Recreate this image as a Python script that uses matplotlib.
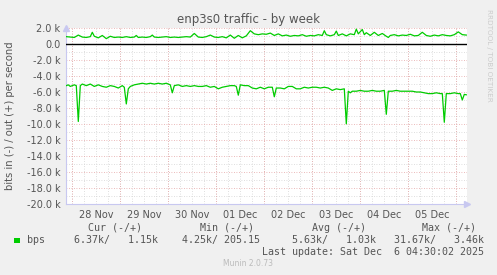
import matplotlib
matplotlib.use("Agg")
import matplotlib.pyplot as plt
import numpy as np
from matplotlib.ticker import FixedLocator, FuncFormatter

# ---- data (hours since 28 Nov 00:00, values in bits/s) ----
day_labels = ["28 Nov", "29 Nov", "30 Nov", "01 Dec", "02 Dec", "03 Dec", "04 Dec", "05 Dec"]

in_t = [-3, -2, -1, 0, 1, 2, 3, 4, 5, 7, 9, 11, 13, 15, 17, 19, 21, 23, 25, 26, 27, 28, 29,
        31, 33, 35, 37, 39, 41, 43, 45, 47, 49, 50, 51, 53, 55, 57, 59, 61, 63, 65, 67, 69,
        71, 73, 75, 77, 79, 81, 82, 83, 84, 86, 88, 90, 92, 94, 96, 98, 100, 101, 102, 104,
        106, 108, 110, 112, 114, 116, 118, 120, 122, 124, 126, 128, 130, 132, 134, 136, 137,
        138, 139, 140, 142, 144, 146, 148, 150, 152, 154, 156, 157, 158, 160, 162, 164, 166,
        168, 170, 172, 174, 176, 178, 180, 182, 184, 185, 186, 187, 189, 191, 193, 194, 195,
        196, 197]
in_v = [-5.2, -5.1, -5.3, -5.2, -5.1, -5.2, -9.7, -5.2, -5.0, -5.2, -5.0, -5.3, -5.1, -5.3,
        -5.4, -5.2, -5.3, -5.5, -5.2, -5.4, -7.5, -5.6, -5.3, -5.1, -5.0, -4.9, -5.0, -4.9,
        -5.0, -4.9, -5.0, -4.9, -5.1, -6.1, -5.2, -5.1, -5.3, -5.2, -5.3, -5.2, -5.3, -5.3,
        -5.2, -5.4, -5.3, -5.6, -5.4, -5.3, -5.2, -5.2, -5.3, -6.4, -5.1, -5.2, -5.2, -5.5,
        -5.6, -5.4, -5.6, -5.4, -5.4, -6.6, -5.5, -5.5, -5.6, -5.3, -5.3, -5.6, -5.6, -5.4,
        -5.5, -5.4, -5.4, -5.5, -5.4, -5.5, -5.8, -5.6, -5.7, -5.6, -10.0, -5.9, -6.1, -5.9,
        -5.9, -5.8, -5.9, -5.9, -5.8, -5.9, -5.9, -5.8, -8.8, -5.9, -5.9, -5.8, -5.9, -5.9,
        -5.9, -5.9, -6.0, -6.0, -6.1, -6.2, -6.2, -6.1, -6.2, -6.2, -9.8, -6.2, -6.2, -6.1,
        -6.2, -6.2, -7.0, -6.3, -6.35]

out_t = [-3, -1, 1, 3, 5, 7, 9, 10, 11, 13, 15, 17, 19, 21, 23, 25, 27, 29, 31, 32, 33, 35,
         37, 39, 40, 41, 43, 45, 47, 49, 51, 53, 55, 57, 59, 61, 63, 65, 67, 69, 71, 73, 75,
         77, 79, 81, 83, 85, 87, 89, 91, 93, 95, 97, 99, 101, 103, 105, 107, 109, 111, 113,
         115, 117, 119, 121, 123, 125, 126, 127, 129, 131, 132, 133, 135, 137, 139, 141, 142,
         143, 145, 146, 147, 149, 151, 153, 155, 157, 158, 159, 161, 163, 165, 167, 169, 171,
         173, 175, 177, 179, 181, 183, 185, 187, 189, 191, 193, 195, 197]
out_v = [0.95, 0.9, 0.85, 1.15, 0.9, 0.85, 0.95, 1.5, 1.0, 0.8, 1.1, 0.7, 1.0, 0.85, 0.9,
         0.85, 0.95, 0.85, 0.9, 1.1, 0.85, 0.9, 0.85, 0.95, 1.15, 0.9, 0.85, 0.9, 0.95, 0.85,
         0.9, 0.85, 0.9, 0.95, 0.9, 1.35, 0.9, 0.85, 0.95, 1.15, 0.9, 0.85, 0.95, 0.8, 1.15,
         0.75, 1.1, 0.8, 1.05, 1.7, 1.3, 1.2, 1.3, 1.25, 1.4, 1.1, 1.3, 1.05, 1.15, 1.0, 1.1,
         1.05, 1.2, 1.0, 1.1, 1.05, 1.2, 1.1, 1.7, 1.2, 1.05, 1.2, 1.65, 1.1, 1.3, 1.05, 1.3,
         1.2, 1.9, 1.3, 1.85, 1.2, 1.45, 1.1, 1.5, 1.1, 1.35, 1.0, 0.85, 1.1, 1.2, 1.05, 1.15,
         1.1, 1.25, 1.05, 1.1, 1.5, 1.1, 1.0, 1.15, 1.05, 1.2, 1.1, 1.05, 1.2, 1.55, 1.2, 1.15]

legend_name = "bps"
legend_headers = ["Cur (-/+)", "Min (-/+)", "Avg (-/+)", "Max (-/+)"]
legend_values = ["6.37k/   1.15k", "4.25k/ 205.15", "5.63k/   1.03k", "31.67k/   3.46k"]
last_update = "Last update: Sat Dec  6 04:30:02 2025"

# ---- figure ----
W, H = 497, 275
fig = plt.figure(figsize=(W / 100, H / 100), dpi=100, facecolor="#F0F0F0")
ax = fig.add_axes([66 / W, 1 - 203.5 / H, 401 / W, (203.5 - 28.3) / H])
ax.set_facecolor("white")

xmin, xmax = -3.15, 197.35
ax.set_xlim(xmin, xmax)
ax.set_ylim(-20000, 2000)

# grids
minor_x = np.arange(0, 198, 6)
major_x = np.arange(0, 198, 24)
for xv in minor_x:
    ax.axvline(xv, color="#d4d4d4", lw=0.6, ls=(0, (1, 2)), zorder=1)
for xv in major_x:
    ax.axvline(xv, color="#e5a3a3", lw=0.6, ls=(0, (1, 2)), zorder=1.5)
for yv in np.arange(-19000, 2000, 2000):
    ax.axhline(yv, color="#d4d4d4", lw=0.6, ls=(0, (1, 2)), zorder=1)
for yv in np.arange(-20000, 2001, 2000):
    ax.axhline(yv, color="#e5a3a3", lw=0.6, ls=(0, (1, 2)), zorder=1.5)

ax.axhline(0, color="black", lw=1.0, zorder=3)

ax.plot(in_t, np.array(in_v) * 1000, color="#00CC00", lw=0.9, zorder=4)
ax.plot(out_t, np.array(out_v) * 1000, color="#00CC00", lw=0.9, zorder=4)

# ticks
ax.set_xticks(np.arange(12, 12 + 24 * len(day_labels), 24))
ax.set_xticklabels(day_labels)
ax.set_yticks(np.arange(-20000, 2001, 2000))
def yfmt(v, p):
    if abs(v) < 1e-9:
        return "0.0"
    return f"{v/1000:.1f} k"
ax.yaxis.set_major_formatter(FuncFormatter(yfmt))
ax.tick_params(axis="both", length=0, labelsize=7, colors="#555555", pad=4)
ax.tick_params(axis="x", pad=5)

for s in ["top", "right"]:
    ax.spines[s].set_visible(False)
for s in ["left", "bottom"]:
    ax.spines[s].set_color("#c8c8f0")
    ax.spines[s].set_linewidth(0.8)
# axis arrows
ax.plot([0], [1.0], marker="^", color="#c8c8f0", ms=4, transform=ax.transAxes, clip_on=False)
ax.plot([1.0], [0], marker=">", color="#c8c8f0", ms=4, transform=ax.transAxes, clip_on=False)

# texts
fig.text(248.5 / W, 1 - 19 / H, "enp3s0 traffic - by week", ha="center", va="center",
         fontsize=8.5, color="#555555")
fig.text(10 / W, 1 - 116 / H, "bits in (-) / out (+) per second", ha="center", va="center",
         rotation=90, fontsize=7.2, color="#555555")
fig.text(489 / W, 1 - 55 / H, "RRDTOOL / TOBI OETIKER", ha="center", va="center",
         rotation=270, fontsize=5.2, color="#cccccc")

mono = "DejaVu Sans Mono"
fig.patches.append(plt.Rectangle((14 / W, 1 - 243 / H), 5.5 / W, 5.5 / H, transform=fig.transFigure,
                                 facecolor="#00CC00", edgecolor="none"))
fig.text(27 / W, 1 - 240 / H, legend_name, ha="left", va="center", fontsize=7.2,
         family=mono, color="#555555")
hdr_x = [115.5, 227.5, 338.5, 449.5]
val_right = [157.5, 260.5, 375.5, 483.5]
for hx, h in zip(hdr_x, legend_headers):
    fig.text(hx / W, 1 - 228 / H, h, ha="center", va="center", fontsize=7.2,
             family=mono, color="#555555")
for vx, v in zip(val_right, legend_values):
    fig.text(vx / W, 1 - 240 / H, v, ha="right", va="center", fontsize=7.2,
             family=mono, color="#555555")
fig.text(483.5 / W, 1 - 252 / H, last_update, ha="right", va="center", fontsize=7.2,
         family=mono, color="#555555")
fig.text(248 / W, 1 - 264 / H, "Munin 2.0.73", ha="center", va="center", fontsize=5.5,
         color="#bbbbbb")

fig.savefig("out.png", dpi=100, facecolor=fig.get_facecolor())
